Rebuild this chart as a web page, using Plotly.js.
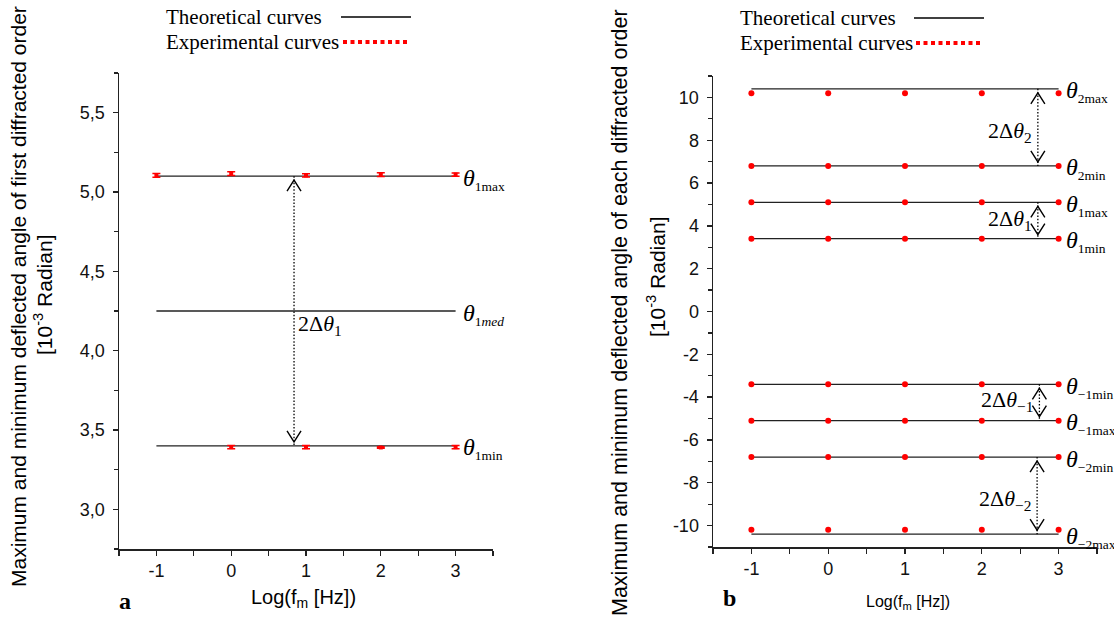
<!DOCTYPE html>
<html>
<head>
<meta charset="utf-8">
<script src="https://cdn.plot.ly/plotly-3.0.1.min.js"></script>
<style>
  html, body { margin: 0; padding: 0; background: #ffffff; }
  #chart { width: 1114px; height: 622px; }
</style>
</head>
<body>
<div id="chart"></div>
<script>
// ---- data -------------------------------------------------------------
// modulation frequency, log10(f_m / Hz)
const logFreq = [-1, 0, 1, 2, 3];

// panel a: first diffracted order [10^-3 rad]
const theoryA = [5.10, 4.25, 3.40];               // θ1max, θ1med, θ1min
const theoryLabelsA = ['1max', '1<i>med</i>', '1min'];
const expMaxA = [5.105, 5.116, 5.105, 5.110, 5.110];
const errMaxA = [0.012, 0.012, 0.010, 0.012, 0.010];
const expMinA = [null, 3.392, 3.392, 3.390, 3.392];
const errMinA = [0, 0.010, 0.010, 0.005, 0.010];

// panel b: each diffracted order [10^-3 rad]
const theoryB = [10.4, 6.8, 5.1, 3.4, -3.4, -5.1, -6.8, -10.4];
const theoryLabelsB = ['2max', '2min', '1max', '1min', '\u22121min', '\u22121max', '\u22122min', '\u22122max'];
const exp2maxB  = [10.2, 10.2, 10.2, 10.2, 10.2];
const exp2minB  = [6.8, 6.8, 6.8, 6.8, 6.8];
const exp1maxB  = [5.1, 5.1, 5.1, 5.1, 5.1];
const exp1minB  = [3.4, 3.4, 3.4, 3.4, 3.4];
const expm1minB = [-3.4, -3.4, -3.4, -3.4, -3.4];
const expm1maxB = [-5.1, -5.1, -5.1, -5.1, -5.1];
const expm2minB = [-6.8, -6.8, -6.8, -6.8, -6.8];
const expm2maxB = [-10.2, -10.2, -10.2, -10.2, -10.2];

// tick labels
const xTickVals = [-1, 0, 1, 2, 3];
const xTickText = ['-1', '0', '1', '2', '3'];
const yTickValsA = [3.0, 3.5, 4.0, 4.5, 5.0, 5.5];
const yTickTextA = ['3,0', '3,5', '4,0', '4,5', '5,0', '5,5'];
const yTickValsB = [-10, -8, -6, -4, -2, 0, 2, 4, 6, 8, 10];
const yTickTextB = ['-10', '-8', '-6', '-4', '-2', '0', '2', '4', '6', '8', '10'];

// ---- helpers ----------------------------------------------------------
const W = 1114, H = 622;
const px = v => v / W;
const py = v => 1 - v / H;
const SANS = 'Liberation Sans, Arial, sans-serif';
const SERIF = 'Liberation Serif, Times New Roman, serif';
const RED = '#ff0000';
const INK = '#222222';

const traces = [];

// theoretical levels (solid black lines)
theoryA.forEach(v => traces.push({
  x: logFreq, y: logFreq.map(() => v), xaxis: 'x', yaxis: 'y',
  mode: 'lines', line: { color: INK, width: 1.3 }, hoverinfo: 'skip', showlegend: false
}));
theoryB.forEach(v => traces.push({
  x: logFreq, y: logFreq.map(() => v), xaxis: 'x2', yaxis: 'y2',
  mode: 'lines', line: { color: INK, width: 1.3 }, hoverinfo: 'skip', showlegend: false
}));

// measured points, panel a (with error bars)
[[expMaxA, errMaxA], [expMinA, errMinA]].forEach(([ys, es]) => traces.push({
  x: logFreq, y: ys, xaxis: 'x', yaxis: 'y', mode: 'markers',
  marker: { color: RED, size: 4, symbol: 'square' },
  error_y: { type: 'data', array: es, visible: true, color: RED, thickness: 1.5, width: 4 },
  showlegend: false
}));

// measured points, panel b
[exp2maxB, exp2minB, exp1maxB, exp1minB, expm1minB, expm1maxB, expm2minB, expm2maxB].forEach(ys => traces.push({
  x: logFreq, y: ys, xaxis: 'x2', yaxis: 'y2', mode: 'markers',
  marker: { color: RED, size: 6 },
  error_y: { type: 'constant', value: 0.07, visible: true, color: RED, thickness: 3.5, width: 0 },
  showlegend: false
}));

// ---- axes ---------------------------------------------------------------
function axis(extra) {
  return Object.assign({
    showgrid: false, zeroline: false, showline: true,
    linecolor: INK, linewidth: 1.5,
    ticks: 'outside', ticklen: 5, tickwidth: 1.3, tickcolor: INK,
    tickfont: { family: SANS, size: 18, color: '#111' },
    tickmode: 'array', fixedrange: true
  }, extra);
}

const layout = {
  width: W, height: H,
  margin: { l: 0, r: 0, t: 0, b: 0 },
  paper_bgcolor: '#ffffff', plot_bgcolor: '#ffffff',
  showlegend: false,
  xaxis: axis({
    domain: [px(119), px(493)], range: [-1.5, 3.5], anchor: 'y',
    tickvals: xTickVals, ticktext: xTickText,
    minor: { ticks: 'outside', ticklen: 5, tickwidth: 1.3, tickcolor: INK, tickmode: 'linear', tick0: -1.5, dtick: 0.5 }
  }),
  yaxis: axis({
    domain: [py(549), py(73)], range: [2.75, 5.75], anchor: 'x',
    tickvals: yTickValsA, ticktext: yTickTextA, ticklabelstandoff: 4,
    minor: { ticks: 'outside', ticklen: 4, tickwidth: 1.3, tickcolor: INK, tickmode: 'linear', tick0: 2.75, dtick: 0.25 }
  }),
  xaxis2: axis({
    domain: [px(713), px(1097)], range: [-1.5, 3.5], anchor: 'y2',
    tickvals: xTickVals, ticktext: xTickText,
    minor: { ticks: 'outside', ticklen: 5, tickwidth: 1.3, tickcolor: INK, tickmode: 'linear', tick0: -1.5, dtick: 0.5 }
  }),
  yaxis2: axis({
    domain: [py(547), py(76)], range: [-11, 11], anchor: 'x2',
    tickvals: yTickValsB, ticktext: yTickTextB, ticklabelstandoff: 4,
    minor: { ticks: 'outside', ticklen: 4, tickwidth: 1.3, tickcolor: INK, tickmode: 'linear', tick0: -11, dtick: 1 }
  }),
  shapes: [],
  annotations: []
};

const ann = layout.annotations, shp = layout.shapes;

// ---- legend blocks ------------------------------------------------------
function legendBlock(textLeft, lineX0, lineX1, yTop, yBottom) {
  ann.push({ xref: 'paper', yref: 'paper', x: px(textLeft), y: py(yTop), xanchor: 'left', yanchor: 'middle',
    text: 'Theoretical curves', showarrow: false, font: { family: SERIF, size: 21, color: '#000' } });
  ann.push({ xref: 'paper', yref: 'paper', x: px(textLeft), y: py(yBottom), xanchor: 'left', yanchor: 'middle',
    text: 'Experimental curves', showarrow: false, font: { family: SERIF, size: 21, color: '#000' } });
  shp.push({ type: 'line', xref: 'paper', yref: 'paper', x0: px(lineX0), x1: px(lineX1), y0: py(yTop), y1: py(yTop),
    line: { color: '#000', width: 1.6 } });
  shp.push({ type: 'line', xref: 'paper', yref: 'paper', x0: px(lineX0 + 2), x1: px(lineX1 - 2), y0: py(yBottom), y1: py(yBottom),
    line: { color: RED, width: 4, dash: '4px,3.5px' } });
}
legendBlock(164, 341, 411, 17, 42);
legendBlock(738, 914, 984, 18, 43);

// ---- axis titles ----------------------------------------------------------
function vtext(x, y, text, size) {
  ann.push({ xref: 'paper', yref: 'paper', x: px(x), y: py(y), xanchor: 'center', yanchor: 'middle',
    textangle: -90, text: text, showarrow: false, font: { family: SANS, size: size, color: '#000' } });
}
vtext(18, 297, 'Maximum and minimum deflected angle of first diffracted order', 21);
vtext(43, 295, '[10<sup>-3</sup> Radian]', 21);
vtext(620, 313, 'Maximum and minimum deflected angle of each diffracted order', 21.5);
vtext(656, 277, '[10<sup>-3</sup> Radian]', 21);

ann.push({ xref: 'paper', yref: 'paper', x: px(303), y: py(598), xanchor: 'center', yanchor: 'middle',
  text: 'Log(f<sub>m</sub> [Hz])', showarrow: false, font: { family: SANS, size: 20, color: '#000' } });
ann.push({ xref: 'paper', yref: 'paper', x: px(908), y: py(602), xanchor: 'center', yanchor: 'middle',
  text: 'Log(f<sub>m</sub> [Hz])', showarrow: false, font: { family: SANS, size: 16, color: '#000' } });

// panel letters
ann.push({ xref: 'paper', yref: 'paper', x: px(125), y: py(601), xanchor: 'center', yanchor: 'middle',
  text: '<b>a</b>', showarrow: false, font: { family: SERIF, size: 24, color: '#000' } });
ann.push({ xref: 'paper', yref: 'paper', x: px(729), y: py(598), xanchor: 'center', yanchor: 'middle',
  text: '<b>b</b>', showarrow: false, font: { family: SERIF, size: 24, color: '#000' } });

// ---- level labels θ ------------------------------------------------------
function thetaLabel(xr, yr, xEnd, value, sub) {
  ann.push({ xref: xr, yref: yr, x: xEnd, y: value, xanchor: 'left', yanchor: 'middle',
    xshift: 5, yshift: -3, showarrow: false,
    text: '<i>\u03b8</i><sub><span style="font-size:13.5px">' + sub + '</span></sub>',
    font: { family: SERIF, size: 24, color: '#000' } });
}
theoryA.forEach((v, i) => thetaLabel('x', 'y', logFreq[logFreq.length - 1], v, theoryLabelsA[i]));
theoryB.forEach((v, i) => thetaLabel('x2', 'y2', logFreq[logFreq.length - 1], v, theoryLabelsB[i]));

// ---- double-headed dotted spans 2Δθ ---------------------------------------
// open chevron heads are drawn in pixel units around the anchor point
function chevron(xr, yr, x, y, dir) {
  const s = dir;                       // +1: head points up, -1: head points down
  const tip = -4 * s, back = -15 * s;  // pixels relative to the level line
  shp.push({ type: 'path', xref: xr, yref: yr, xsizemode: 'pixel', ysizemode: 'pixel',
    xanchor: x, yanchor: y,
    path: `M -7,${back} L 0,${tip} L 7,${back}`,
    line: { color: '#000', width: 1.4 }, fillcolor: 'rgba(0,0,0,0)' });
}
function span(xr, yr, x, yTop, yBot, label, labelY, side) {
  shp.push({ type: 'line', xref: xr, yref: yr, x0: x, x1: x, y0: yTop, y1: yBot,
    line: { color: '#000', width: 1.3, dash: '1.5px,1.8px' } });
  chevron(xr, yr, x, yTop, 1);
  chevron(xr, yr, x, yBot, -1);
  ann.push({ xref: xr, yref: yr, x: x, y: labelY, xanchor: side, yanchor: 'middle',
    xshift: side === 'left' ? 2 : -4, showarrow: false, text: label,
    font: { family: SERIF, size: 22, color: '#000' } });
}
span('x', 'y', 0.84, theoryA[0], theoryA[2], '2\u0394<i>\u03b8</i><sub>1</sub>', 4.16, 'left');
span('x2', 'y2', 2.73, theoryB[0], theoryB[1], '2\u0394<i>\u03b8</i><sub>2</sub>', 8.4, 'right');
span('x2', 'y2', 2.73, theoryB[2], theoryB[3], '2\u0394<i>\u03b8</i><sub>1</sub>', 4.27, 'right');
span('x2', 'y2', 2.75, theoryB[4], theoryB[5], '2\u0394<i>\u03b8</i><sub>\u22121</sub>', -4.2, 'right');
span('x2', 'y2', 2.72, theoryB[6], theoryB[7], '2\u0394<i>\u03b8</i><sub>\u22122</sub>', -8.8, 'right');

Plotly.newPlot('chart', traces, layout, { displayModeBar: false, staticPlot: true });
</script>
</body>
</html>
